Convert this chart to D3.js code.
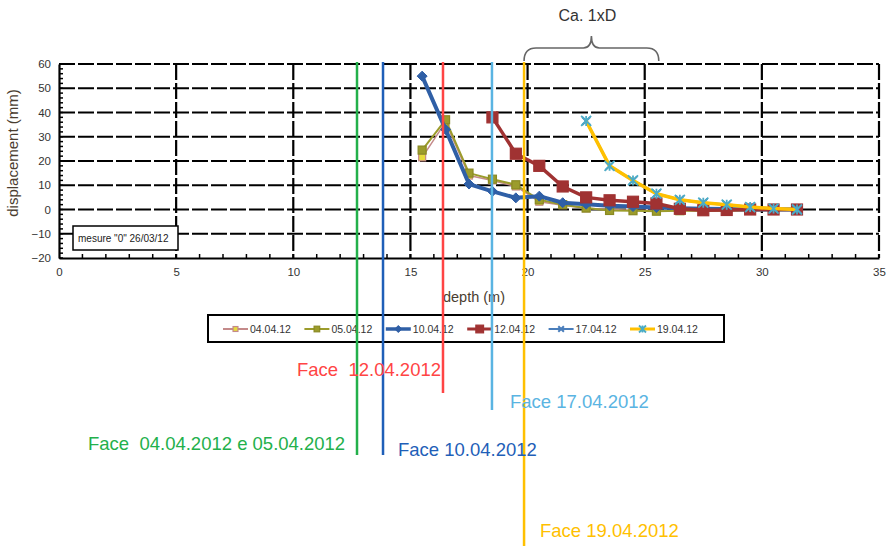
<!DOCTYPE html>
<html><head><meta charset="utf-8">
<script src="https://cdnjs.cloudflare.com/ajax/libs/d3/7.8.5/d3.min.js"></script>
<style>
html,body{margin:0;padding:0;background:#fff;}
svg{display:block;}
text{white-space:pre;}
</style></head>
<body><svg id="c" width="890" height="546"></svg>
<script>
// ---- data ----
const depths = [15.5,16.5,17.5,18.5,19.5,20.5,21.5,22.5,23.5,24.5,25.5,26.5,27.5,28.5,29.5,30.5,31.5];
const s0404 = [21.5,36,14,12,9.5,3.2,1.8,0.5,0,-0.3,-0.3,-0.5,-0.5,-0.5,-0.5,-0.3,-0.3];
const s0504 = [24.5,37,15,12.5,10.2,4,2,0.6,-0.4,-0.5,-0.7,-0.5,-0.5,-0.5,-0.3,-0.3,-0.3];
const s1004 = [55,33,10.5,7.5,4.8,5.5,2.8,2.2,1.5,1.2,0.8,0.5,0.3,0.2,0,0,0];
const s1204 = [null,null,null,38,23,18,9.5,5,3.8,3.2,2.5,0.3,-0.3,-0.2,0,0,0];
const s1704 = [null,null,null,null,null,null,null,36.5,18,12,6.5,4,2.8,2,1,0.4,0];
const s1904 = [null,null,null,null,null,null,null,36.5,18,12,6.5,4,2.8,2,1,0.4,0];
const seriesNames = ["04.04.12","05.04.12","10.04.12","12.04.12","17.04.12","19.04.12"];
const xTicks = [0,5,10,15,20,25,30,35];
const yTicks = [-20,-10,0,10,20,30,40,50,60];
const faceLabels = ["Face  04.04.2012 e 05.04.2012","Face 10.04.2012","Face  12.04.2012","Face 17.04.2012","Face 19.04.2012"];
const faceDepths = [12.72,13.83,16.39,18.48,19.85];
const braceFrom = 19.85, braceTo = 25.6;
const braceText = "Ca. 1xD";
const zeroNote = "mesure \"0\" 26/03/12";

// ---- styles ----
const styles = [
  {color:"#c48a8a", w:1.5, marker:"sq", mfill:"#e6dc3c", mstroke:"#c48a8a", ms:7},
  {color:"#9c9c2c", w:2, marker:"sq", mfill:"#9c9c2c", mstroke:"#8a8a22", ms:8},
  {color:"#2f5fa6", w:4, marker:"dia", mfill:"#2f5fa6", mstroke:"#2f5fa6", ms:10},
  {color:"#a03232", w:3.5, marker:"sq", mfill:"#a03232", mstroke:"#a03232", ms:11},
  {color:"#4a7ebb", w:2.5, marker:"x", mfill:"none", mstroke:"#4a7ebb", ms:8},
  {color:"#ffc000", w:3.5, marker:"star", mfill:"none", mstroke:"#4bacc6", ms:10}
];
const faceStyles = [
  {color:"#23b04b", y2:455, lx:88, ly:450},
  {color:"#1f5fb8", y2:455, lx:398, ly:456},
  {color:"#ff4444", y2:393, lx:297, ly:376},
  {color:"#5ab4e2", y2:410, lx:510, ly:408},
  {color:"#ffc000", y2:546, lx:540, ly:537}
];

const svg = d3.select("#c");
const x = d3.scaleLinear().domain([0,35]).range([59,879]);
const y = d3.scaleLinear().domain([-20,60]).range([258,64]);

// grid
const g = svg.append("g");
g.selectAll("line.h").data(yTicks.filter(v=>v>-20)).enter().append("line")
  .attr("x1",x(0)).attr("x2",x(35)).attr("y1",d=>y(d)).attr("y2",d=>y(d))
  .attr("stroke","#000").attr("stroke-width",2.2).attr("stroke-dasharray","16,3");
g.selectAll("line.v").data(xTicks.filter(v=>v>0)).enter().append("line")
  .attr("x1",d=>x(d)).attr("x2",d=>x(d)).attr("y1",y(60)).attr("y2",y(-20))
  .attr("stroke","#000").attr("stroke-width",2.2).attr("stroke-dasharray","16,3");

// axes
const xAxis = d3.axisBottom(x).tickValues(xTicks).tickSize(0).tickPadding(10);
const xa = svg.append("g").attr("transform",`translate(0,${y(-20)})`).call(xAxis);
const yAxis = d3.axisLeft(y).tickValues(yTicks).tickSize(0).tickPadding(8);
const ya = svg.append("g").attr("transform",`translate(${x(0)},0)`).call(yAxis);
[xa,ya].forEach(a=>{
  a.select(".domain").attr("stroke","#000").attr("stroke-width",2.2);
  a.selectAll("text").attr("font-family","'Liberation Sans Narrow','Liberation Sans',Arial,sans-serif")
   .attr("font-size",11.5).attr("fill","#333");
});
// minor ticks
svg.append("g").selectAll("line").data(d3.range(1,35)).enter().append("line")
  .attr("x1",d=>x(d)).attr("x2",d=>x(d)).attr("y1",y(-20)).attr("y2",y(-20)-4)
  .attr("stroke","#000").attr("stroke-width",1.5);
svg.append("g").selectAll("line").data(d3.range(-20,60,2)).enter().append("line")
  .attr("x1",x(0)).attr("x2",x(0)+4).attr("y1",d=>y(d)).attr("y2",d=>y(d))
  .attr("stroke","#000").attr("stroke-width",1.5);

// axis titles
svg.append("text").attr("x",(x(0)+x(35))/2+5).attr("y",302).attr("text-anchor","middle")
  .attr("font-family","'Liberation Sans',Arial,sans-serif").attr("font-size",14.5).attr("fill","#4a3d30")
  .text("depth (m)");
svg.append("text").attr("transform","translate(18,153) rotate(-90)").attr("text-anchor","middle")
  .attr("font-family","'Liberation Sans',Arial,sans-serif").attr("font-size",15).attr("fill","#4a3d30")
  .text("displacement (mm)");

// mesure box
svg.append("rect").attr("x",73).attr("y",226).attr("width",105).attr("height",24)
  .attr("fill","#fff").attr("stroke","#000").attr("stroke-width",1.5);
svg.append("text").attr("x",78).attr("y",242).attr("font-family","'Liberation Sans Narrow','Liberation Sans',Arial,sans-serif")
  .attr("font-size",10).attr("fill","#222").text(zeroNote);

// marker drawing
function drawMarker(sel, st, cx, cy, scale){
  const s = st.ms*(scale||1);
  if(st.marker==="sq"){
    sel.append("rect").attr("x",cx-s/2).attr("y",cy-s/2).attr("width",s).attr("height",s)
      .attr("fill",st.mfill).attr("stroke",st.mstroke).attr("stroke-width",1.2);
  } else if(st.marker==="dia"){
    sel.append("path").attr("d",`M${cx},${cy-s/2}L${cx+s/2},${cy}L${cx},${cy+s/2}L${cx-s/2},${cy}Z`)
      .attr("fill",st.mfill).attr("stroke",st.mstroke);
  } else if(st.marker==="x"){
    sel.append("path").attr("d",`M${cx-s/2},${cy-s/2}L${cx+s/2},${cy+s/2}M${cx-s/2},${cy+s/2}L${cx+s/2},${cy-s/2}`)
      .attr("stroke",st.mstroke).attr("stroke-width",2);
  } else if(st.marker==="star"){
    sel.append("path").attr("d",`M${cx-s/2},${cy-s/2}L${cx+s/2},${cy+s/2}M${cx-s/2},${cy+s/2}L${cx+s/2},${cy-s/2}M${cx},${cy-s/2}L${cx},${cy+s/2}`)
      .attr("stroke",st.mstroke).attr("stroke-width",1.8);
  }
}

// series
const allSeries = [s0404,s0504,s1004,s1204,s1704,s1904];
const line = d3.line().defined(d=>d[1]!==null).x(d=>x(d[0])).y(d=>y(d[1]));
allSeries.forEach((vals,i)=>{
  const st = styles[i];
  const pts = depths.map((d,j)=>[d,vals[j]]);
  const sg = svg.append("g");
  sg.append("path").datum(pts).attr("d",line).attr("fill","none")
    .attr("stroke",st.color).attr("stroke-width",st.w).attr("stroke-linejoin","round");
  pts.filter(p=>p[1]!==null).forEach(p=>drawMarker(sg,st,x(p[0]),y(p[1])));
});

// legend
const lg = svg.append("g");
lg.append("rect").attr("x",208).attr("y",315).attr("width",516).attr("height",27)
  .attr("fill","#fff").attr("stroke","#000").attr("stroke-width",2);
seriesNames.forEach((n,i)=>{
  const st = styles[i];
  const lx = 223 + i*81.4, ly = 329;
  lg.append("line").attr("x1",lx).attr("x2",lx+25).attr("y1",ly).attr("y2",ly)
    .attr("stroke",st.color).attr("stroke-width",Math.max(2,st.w-0.5));
  drawMarker(lg,st,lx+12.5,ly,0.7);
  lg.append("text").attr("x",lx+27).attr("y",ly+4)
    .attr("font-family","'Liberation Sans Narrow','Liberation Sans',Arial,sans-serif")
    .attr("font-size",10.5).attr("fill","#333").text(n);
});

// face lines
faceDepths.forEach((d,i)=>{
  const fs = faceStyles[i];
  svg.append("line").attr("x1",x(d)).attr("x2",x(d)).attr("y1",62).attr("y2",fs.y2)
    .attr("stroke",fs.color).attr("stroke-width",2.5);
});
faceLabels.forEach((t,i)=>{
  const fs = faceStyles[i];
  svg.append("text").attr("x",fs.lx).attr("y",fs.ly)
    .attr("font-family","'Liberation Sans',Arial,sans-serif").attr("font-size",18.5)
    .attr("fill",fs.color).text(t);
});

// brace
const bx1 = x(braceFrom), bx2 = x(braceTo), bm = (bx1+bx2)/2;
svg.append("path")
  .attr("d",`M${bx1},61 Q${bx1},48 ${bx1+12},48 L${bm-8},48 Q${bm},48 ${bm},36 Q${bm},48 ${bm+8},48 L${bx2-12},48 Q${bx2},48 ${bx2},61`)
  .attr("fill","none").attr("stroke","#666").attr("stroke-width",1.6);
svg.append("text").attr("x",bm-4).attr("y",21).attr("text-anchor","middle")
  .attr("font-family","'Liberation Sans',Arial,sans-serif").attr("font-size",16).attr("fill","#333")
  .text(braceText);
</script></body></html>
